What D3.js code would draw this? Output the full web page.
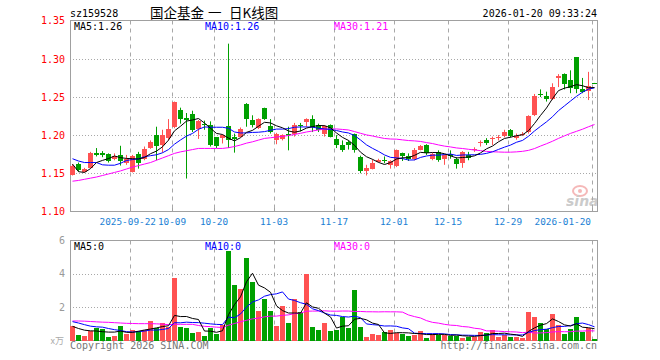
<!DOCTYPE html>
<html><head><meta charset="utf-8">
<script src="https://cdn.jsdelivr.net/npm/d3@7"></script>
<style>
html,body{margin:0;padding:0;background:#fff;}
svg{display:block;}
text{font-family:"DejaVu Sans Mono",monospace;}
</style></head><body>
<svg id="c" width="660" height="360"></svg>
<script>
const dates = ["2025-09-08","2025-09-09","2025-09-10","2025-09-11","2025-09-12","2025-09-15","2025-09-16","2025-09-17","2025-09-18","2025-09-19",
"2025-09-22","2025-09-23","2025-09-24","2025-09-25","2025-09-26","2025-09-29","2025-09-30","2025-10-09","2025-10-10","2025-10-13",
"2025-10-14","2025-10-15","2025-10-16","2025-10-17","2025-10-20","2025-10-21","2025-10-22","2025-10-23","2025-10-24","2025-10-27",
"2025-10-28","2025-10-29","2025-10-30","2025-10-31","2025-11-03","2025-11-04","2025-11-05","2025-11-06","2025-11-07","2025-11-10",
"2025-11-11","2025-11-12","2025-11-13","2025-11-14","2025-11-17","2025-11-18","2025-11-19","2025-11-20","2025-11-21","2025-11-24",
"2025-11-25","2025-11-26","2025-11-27","2025-11-28","2025-12-01","2025-12-02","2025-12-03","2025-12-04","2025-12-05","2025-12-08",
"2025-12-09","2025-12-10","2025-12-11","2025-12-15","2025-12-16","2025-12-17","2025-12-18","2025-12-19","2025-12-22","2025-12-23",
"2025-12-24","2025-12-25","2025-12-26","2025-12-29","2025-12-30","2025-12-31","2026-01-05","2026-01-06","2026-01-07","2026-01-08",
"2026-01-09","2026-01-12","2026-01-13","2026-01-14","2026-01-15","2026-01-16","2026-01-19","2026-01-20"];

const openP = [1.148,1.162,1.152,1.157,1.177,1.176,1.175,1.169,1.174,1.164,
1.152,1.175,1.168,1.183,1.200,1.187,1.196,1.210,1.233,1.223,
1.228,1.208,1.215,1.213,1.197,1.196,1.212,1.197,1.198,1.241,
1.220,1.209,1.235,1.212,1.193,1.195,1.201,1.201,1.213,1.217,
1.221,1.213,1.201,1.213,1.195,1.187,1.191,1.201,1.171,1.153,
1.156,1.165,1.1668,1.161,1.159,1.176,1.172,1.168,1.181,1.187,
1.168,1.178,1.168,1.175,1.168,1.163,1.174,1.180,1.189,1.193,
1.195,1.197,1.199,1.207,1.196,1.201,1.204,1.226,1.254,1.251,
1.247,1.275,1.280,1.272,1.302,1.260,1.258,1.2685];
const highP = [1.162,1.164,1.157,1.178,1.183,1.179,1.176,1.176,1.186,1.174,
1.174,1.178,1.185,1.193,1.211,1.207,1.221,1.244,1.236,1.229,
1.232,1.220,1.219,1.218,1.197,1.201,1.320,1.202,1.210,1.242,
1.226,1.222,1.236,1.221,1.203,1.201,1.211,1.216,1.216,1.222,
1.226,1.215,1.213,1.214,1.200,1.193,1.193,1.202,1.173,1.161,
1.168,1.169,1.172,1.167,1.181,1.177,1.176,1.183,1.187,1.188,
1.177,1.180,1.175,1.180,1.171,1.179,1.178,1.184,1.193,1.196,
1.198,1.200,1.207,1.208,1.202,1.204,1.226,1.254,1.260,1.257,
1.268,1.280,1.281,1.285,1.302,1.275,1.283,1.2685];
const lowP = [1.147,1.152,1.151,1.156,1.172,1.171,1.164,1.167,1.160,1.161,
1.151,1.156,1.167,1.182,1.167,1.177,1.193,1.209,1.215,1.143,
1.204,1.195,1.207,1.185,1.183,1.189,1.183,1.177,1.197,1.211,
1.210,1.208,1.220,1.202,1.188,1.193,1.180,1.198,1.205,1.211,
1.204,1.204,1.198,1.197,1.183,1.178,1.181,1.177,1.150,1.147,
1.155,1.164,1.163,1.156,1.158,1.166,1.166,1.167,1.180,1.174,
1.167,1.165,1.161,1.169,1.156,1.157,1.167,1.178,1.185,1.187,
1.187,1.193,1.197,1.197,1.194,1.199,1.202,1.225,1.250,1.244,
1.246,1.263,1.260,1.255,1.255,1.255,1.246,1.268];
const closeP = [1.160,1.154,1.155,1.177,1.174,1.174,1.166,1.172,1.166,1.169,
1.172,1.164,1.182,1.191,1.186,1.200,1.208,1.243,1.221,1.220,
1.207,1.218,1.213,1.187,1.186,1.200,1.194,1.195,1.208,1.221,
1.213,1.221,1.221,1.204,1.202,1.200,1.200,1.213,1.212,1.221,
1.210,1.207,1.212,1.198,1.187,1.181,1.187,1.180,1.153,1.157,
1.164,1.167,1.166,1.166,1.180,1.172,1.168,1.181,1.186,1.176,
1.175,1.167,1.174,1.172,1.162,1.178,1.170,1.182,1.191,1.189,
1.196,1.198,1.204,1.199,1.199,1.202,1.225,1.251,1.252,1.248,
1.263,1.278,1.267,1.262,1.261,1.256,1.265,1.268];

const volume = [0.89,0.34,0.28,0.56,0.78,0.68,0.22,0.28,0.87,0.40,
0.66,0.58,0.64,1.17,0.74,1.05,0.83,3.74,0.82,0.76,
0.46,0.52,0.28,0.78,0.42,0.93,5.35,3.32,3.08,4.93,
3.50,1.77,2.49,1.77,0.87,2.07,1.05,2.49,1.73,3.98,
0.82,0.64,1.05,0.58,0.64,1.39,0.76,3.02,0.82,0.22,
0.40,0.34,0.52,0.64,0.44,0.40,0.28,0.34,0.58,0.18,
0.40,0.34,0.34,0.28,0.28,0.18,0.24,0.24,0.54,0.44,
0.64,0.24,0.34,0.24,0.24,0.18,1.71,1.41,1.05,0.72,
1.59,0.93,0.40,0.70,1.41,0.54,0.78,0.10];

// moving-average values before enough history is visible
const priceMa5Head = [1.162,1.152,1.151,1.156];
const priceMa10Head = [1.169,1.166,1.164,1.164,1.164,1.161,1.1605,1.1605,1.163];
const priceMa30Head = [1.1395,1.1405,1.142,1.1435,1.145,1.147,1.149,1.151,1.153,1.1555,
1.158,1.160,1.162,1.164,1.167,1.170,1.173,1.176,1.178,1.1795,
1.181,1.1825,1.1825,1.1825,1.1825,1.1825,1.1835,1.185,1.187];
const volMa5Head = [0.85,0.72,0.62,0.58];
const volMa10Head = [1.13,1.05,0.95,0.86,0.82,0.80,0.72,0.65,0.60];
const volMa30Head = [1.17,1.17,1.16,1.14,1.12,1.10,1.09,1.07,1.05,1.03,
1.02,1.01,1.01,1.01,1.00,0.98,0.95,0.97,0.97,0.97,
0.97,0.90,0.85,0.83,0.80,0.78,0.92,1.02,1.12];

const priceTicks = [1.10,1.15,1.20,1.25,1.30,1.35];
const volTicks = [2,4,6];
const tickDates = ["2025-09-22","2025-10-09","2025-10-20","2025-11-03","2025-11-17","2025-12-01","2025-12-15","2025-12-29","2026-01-20"];
const tickLabels = ["2025-09-22","10-09","10-20","11-03","11-17","12-01","12-15","12-29","2026-01-20"];

const RED = "#ff5252", GREEN = "#00a000", GRID = "#a8a8a8", FRAME = "#a0a0a0";

const svg = d3.select("#c");
const L = 70, R = 598;
const x = d3.scaleBand().domain(d3.range(dates.length)).range([L, R]).paddingInner(0).paddingOuter(0);
const y = d3.scaleLinear().domain([1.10, 1.35]).range([211.3, 20.8]);
const yv = d3.scaleLinear().domain([0, 6]).range([340.5, 240.5]);
const cx = i => x(i) + 2.5;
const px = v => Math.round(v) + 0.5;

function movingAvg(vals, n, head) {
  return vals.map((v, i) => i < n - 1 ? head[i] : d3.mean(vals.slice(i - n + 1, i + 1)));
}

// ---- titles
svg.append("text").attr("x", 70).attr("y", 17).attr("font-size", 10).attr("fill", "#000").text("sz159528");
const cjk = '"Noto Sans CJK SC", sans-serif';
[["国企基金", 150], ["一", 208], ["日K线图", 229]].forEach(([t, xx]) => {
  svg.append("text").attr("x", xx).attr("y", 18).attr("font-size", 13.5)
    .style("font-family", cjk).attr("fill", "#000").text(t);
});
svg.append("text").attr("x", 597).attr("y", 17).attr("font-size", 10).attr("text-anchor", "end").attr("fill", "#000").text("2026-01-20 09:33:24");

// ---- panels
function panel(top, bottom, yscale, hticks) {
  const g = svg.append("g");
  g.selectAll("line.h").data(hticks).join("line")
    .attr("x1", L).attr("x2", R).attr("y1", d => px(yscale(d))).attr("y2", d => px(yscale(d)))
    .attr("stroke", GRID).attr("stroke-width", 1).attr("stroke-dasharray", "1,2");
  g.selectAll("line.v").data(tickDates).join("line")
    .attr("x1", d => x(dates.indexOf(d)) + 0.5).attr("x2", d => x(dates.indexOf(d)) + 0.5)
    .attr("y1", top).attr("y2", bottom)
    .attr("stroke", GRID).attr("stroke-width", 1).attr("stroke-dasharray", "4,4");
  g.append("rect").attr("x", L + 0.5).attr("y", top).attr("width", R - L - 1).attr("height", bottom - top)
    .attr("fill", "none").attr("stroke", FRAME).attr("stroke-width", 1);
  return g;
}
const gMain = panel(20.5, 211.5, y, [1.15, 1.20, 1.25, 1.30]);
const gVol = panel(240.5, 340.5, yv, [2, 4]);

// bottom tick marks on main panel
gMain.selectAll("line.t").data(tickDates).join("line")
  .attr("x1", d => x(dates.indexOf(d)) + 0.5).attr("x2", d => x(dates.indexOf(d)) + 0.5)
  .attr("y1", 208).attr("y2", 211.5).attr("stroke", FRAME);

// ---- y-axis labels
svg.selectAll("text.py").data(priceTicks).join("text")
  .attr("x", 65).attr("y", d => y(d)).attr("dy", "0.36em").attr("text-anchor", "end")
  .attr("font-size", 10).attr("fill", "#f00").text(d => d.toFixed(2));
svg.selectAll("text.vy").data(volTicks).join("text")
  .attr("x", 65).attr("y", d => yv(d)).attr("dy", "0.36em").attr("text-anchor", "end")
  .attr("font-size", 10).attr("fill", "#999").text(d => d);
svg.append("text").attr("x", 64).attr("y", 344).attr("text-anchor", "end").attr("font-size", 9)
  .style("font-family", cjk).attr("fill", "#aaa").text("x万");

// ---- x-axis labels
const xl = svg.append("g").attr("font-size", 9.4).attr("fill", "#1a7fd4");
tickDates.forEach((d, k) => {
  const xi = x(dates.indexOf(d));
  const t = xl.append("text").attr("y", 225).text(tickLabels[k]);
  if (k === tickDates.length - 1) t.attr("x", 591).attr("text-anchor", "end");
  else if (k === 0) t.attr("x", 156).attr("text-anchor", "end");
  else t.attr("x", xi).attr("text-anchor", "middle");
});

// ---- candles
const idx = d3.range(dates.length);
const gC = svg.append("g");
gC.selectAll("line.w").data(idx).join("line")
  .attr("x1", cx).attr("x2", cx)
  .attr("y1", i => y(highP[i])).attr("y2", i => y(lowP[i]))
  .attr("stroke", i => closeP[i] >= openP[i] ? RED : GREEN).attr("stroke-width", 1);
gC.selectAll("rect.b").data(idx).join("rect")
  .attr("x", i => x(i)).attr("width", 5)
  .attr("y", i => y(Math.max(openP[i], closeP[i])))
  .attr("height", i => Math.max(1, y(Math.min(openP[i], closeP[i])) - y(Math.max(openP[i], closeP[i]))))
  .attr("fill", i => closeP[i] >= openP[i] ? RED : GREEN)
  .attr("shape-rendering", "crispEdges");

// ---- volume bars
svg.append("g").selectAll("rect").data(idx).join("rect")
  .attr("x", i => x(i)).attr("width", 5)
  .attr("y", i => yv(volume[i])).attr("height", i => yv(0) - yv(volume[i]))
  .attr("fill", i => closeP[i] >= openP[i] ? RED : GREEN)
  .attr("shape-rendering", "crispEdges");

// ---- MA lines
const line = ys => d3.line().x((d, i) => cx(i)).y(d => ys(d));
const maDefs = [[5, "#000"], [10, "#0000ff"], [30, "#ff00ff"]];
const pHeads = [priceMa5Head, priceMa10Head, priceMa30Head];
const vHeads = [volMa5Head, volMa10Head, volMa30Head];
const pMA = maDefs.map((m, k) => movingAvg(closeP, m[0], pHeads[k]));
const vMA = maDefs.map((m, k) => movingAvg(volume, m[0], vHeads[k]));
[2, 1, 0].forEach(k => {
  svg.append("path").datum(pMA[k]).attr("d", line(y)).attr("fill", "none").attr("stroke", maDefs[k][1]).attr("stroke-width", 1);
  svg.append("path").datum(vMA[k]).attr("d", line(yv)).attr("fill", "none").attr("stroke", maDefs[k][1]).attr("stroke-width", 1);
});

// ---- legends
const legX = [74, 205, 334];
maDefs.forEach((m, k) => {
  svg.append("text").attr("x", legX[k]).attr("y", 30).attr("font-size", 10).attr("fill", m[1])
    .text("MA" + m[0] + ":" + pMA[k][pMA[k].length - 1].toFixed(2));
  svg.append("text").attr("x", legX[k]).attr("y", 250).attr("font-size", 10).attr("fill", m[1])
    .text("MA" + m[0] + ":0");
});

// ---- footer
svg.append("text").attr("x", 70).attr("y", 349).attr("font-size", 10).attr("fill", "#777").text("Copyright 2026 SINA.COM");
svg.append("text").attr("x", 597).attr("y", 349).attr("font-size", 10).attr("text-anchor", "end").attr("fill", "#777").text("http://finance.sina.com.cn");

// ---- sina watermark
const wm = svg.append("g").attr("opacity", 0.6);
wm.append("ellipse").attr("cx", 580).attr("cy", 191).attr("rx", 7).attr("ry", 5).attr("fill", "none").attr("stroke", "#f08a8a").attr("stroke-width", 2);
wm.append("circle").attr("cx", 580).attr("cy", 191).attr("r", 2).attr("fill", "#f08a8a");
wm.append("text").attr("x", 566).attr("y", 206).attr("font-size", 14).attr("font-style", "italic").attr("font-weight", "bold")
  .style("font-family", "'DejaVu Sans', sans-serif").attr("fill", "#aaa").text("sina");
</script>
</body></html>
